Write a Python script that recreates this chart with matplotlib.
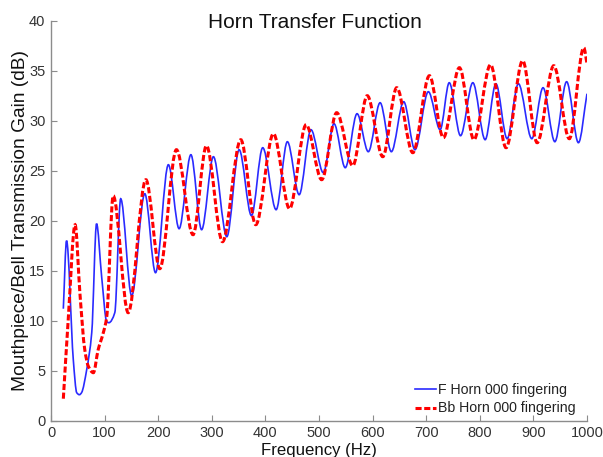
import matplotlib
matplotlib.use("Agg")
import matplotlib.pyplot as plt
from matplotlib.path import Path
from matplotlib.patches import PathPatch
from matplotlib.lines import Line2D

plt.rcParams['font.family'] = ['Liberation Sans', 'DejaVu Sans']

# F horn (blue solid) frequency / gain
f_horn_freq = [23, 29, 41.6, 48, 53, 57, 66.6, 76, 85, 94.5, 104, 108, 119,
               130, 150.5, 175, 195, 219, 239, 261, 281, 303, 328, 351, 374, 395, 420,
               441, 463, 485, 508, 528, 549, 571, 592, 614, 635, 658, 679, 704, 726,
               743, 764, 787, 810, 830, 851, 872, 897, 918, 940, 962, 984, 1000]
f_horn_gain = [11.2, 18.0, 6.1, 2.8, 2.6, 2.8, 5.1, 8.8, 19.7, 14.4, 9.9, 9.8, 10.8,
               22.2, 12.5, 22.7, 14.8, 25.6, 19.2, 26.6, 19.1, 26.4, 18.4, 27.1, 20.5, 27.3, 21.1,
               27.9, 22.6, 29.1, 24.8, 29.7, 25.3, 30.7, 26.9, 31.8, 26.9, 31.9, 27.1, 32.9, 29.1,
               33.8, 28.5, 33.8, 28.1, 33.7, 28.2, 33.7, 28.2, 33.3, 27.9, 33.9, 27.8, 32.7]

# Bb horn (red dashed)
bb_horn_freq = [23, 32, 45, 54, 63, 70, 79, 88, 97.6, 104, 116, 144, 177, 203, 234,
                265, 290, 320, 354, 382, 415, 445, 476, 505, 533, 563, 590, 619, 645, 675,
                706, 732, 762, 789, 820, 849, 880, 907, 938, 967, 994, 1000]
bb_horn_gain = [2.2, 10.0, 19.6, 12.7, 7.1, 5.4, 4.8, 7.1, 8.8, 10.4, 22.5, 10.8, 24.1, 15.2, 27.1,
                18.6, 27.5, 17.9, 28.1, 19.6, 28.7, 21.2, 29.6, 24.1, 30.8, 25.5, 32.5, 26.4, 33.3, 26.8,
                34.5, 28.3, 35.3, 28.1, 35.6, 27.3, 36.0, 27.8, 35.5, 28.2, 37.3, 35.7]

x_ticks = list(range(0, 1001, 100))
y_ticks = list(range(0, 41, 5))
labels = ['F Horn 000 fingering', 'Bb Horn 000 fingering']


def smooth_path(xs, ys):
    """Smooth Bezier path through the read points (flat at peaks/troughs)."""
    n = len(xs)
    d = [(ys[i + 1] - ys[i]) / (xs[i + 1] - xs[i]) for i in range(n - 1)]
    m = [0.0] * n
    m[0], m[-1] = d[0], d[-1]
    for i in range(1, n - 1):
        if d[i - 1] * d[i] <= 0:
            m[i] = 0.0
        else:
            m[i] = 2 * d[i - 1] * d[i] / (d[i - 1] + d[i])
    verts = [(xs[0], ys[0])]
    codes = [Path.MOVETO]
    for i in range(n - 1):
        h = xs[i + 1] - xs[i]
        verts += [(xs[i] + h / 3, ys[i] + m[i] * h / 3),
                  (xs[i + 1] - h / 3, ys[i + 1] - m[i + 1] * h / 3),
                  (xs[i + 1], ys[i + 1])]
        codes += [Path.CURVE4] * 3
    return Path(verts, codes)


W, H = 603, 457
fig = plt.figure(figsize=(W / 100, H / 100), dpi=100)
ax = fig.add_axes([51 / W, 1 - 420.7 / H, (587 - 51) / W, 400 / H])

blue_style = dict(color='#2a2aff', lw=1.2)
red_style = dict(color='#ff0000', lw=2.2, ls=(0, (2.0, 0.85)))

ax.add_patch(PathPatch(smooth_path(f_horn_freq, f_horn_gain), fill=False,
                       edgecolor=blue_style['color'], lw=blue_style['lw']))
ax.add_patch(PathPatch(smooth_path(bb_horn_freq, bb_horn_gain), fill=False,
                       edgecolor=red_style['color'], lw=red_style['lw'], ls=red_style['ls']))

ax.set_xlim(0, 1000)
ax.set_ylim(0, 40)
ax.set_xticks(x_ticks)
ax.set_yticks(y_ticks)
for s in ['top', 'right']:
    ax.spines[s].set_visible(False)
for s in ['left', 'bottom']:
    ax.spines[s].set_color('#8c8c8c')
    ax.spines[s].set_linewidth(1.0)
ax.tick_params(direction='in', length=4, color='#8c8c8c', labelcolor='#333333',
               labelsize=10.5, pad=4)

ax.set_xlabel('Frequency (Hz)', fontsize=12.1, color='#111111', labelpad=2)
ax.set_ylabel('Mouthpiece/Bell Transmission Gain (dB)', fontsize=13.8, color='#111111', labelpad=0)
fig.text(315 / W, 1 - 28 / H, 'Horn Transfer Function', fontsize=15, ha='center',
         va='baseline', color='#111111')

handles = [Line2D([], [], **blue_style), Line2D([], [], **red_style)]
leg = ax.legend(handles, labels, loc='center left', bbox_to_anchor=(415 / W, 1 - 399 / H),
                bbox_transform=fig.transFigure, frameon=False, fontsize=10.2,
                handlelength=1.5, handletextpad=0.15, borderpad=0, borderaxespad=0,
                labelspacing=0.35)
for t in leg.get_texts():
    t.set_color('#222222')

fig.savefig('out.png', dpi=100)
